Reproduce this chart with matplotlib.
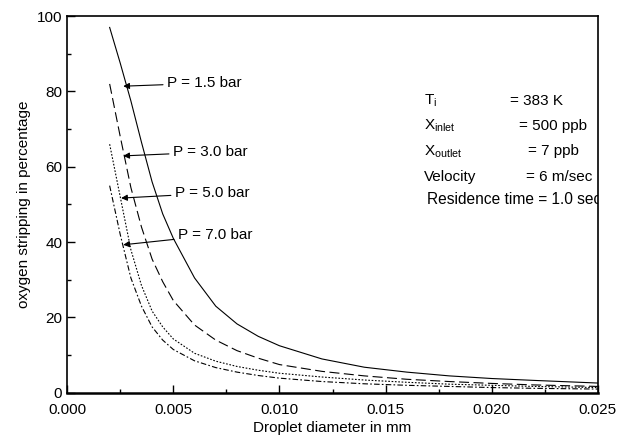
import matplotlib
matplotlib.use("Agg")
import matplotlib.pyplot as plt
from matplotlib.ticker import MultipleLocator

plt.rcParams['font.family'] = ['Liberation Sans', 'DejaVu Sans']
plt.rcParams['mathtext.fontset'] = 'custom'
plt.rcParams['mathtext.rm'] = 'Liberation Sans'
plt.rcParams['mathtext.it'] = 'Liberation Sans'

# droplet diameter (mm)
diameter = [0.002, 0.0025, 0.003, 0.0035, 0.004, 0.0045, 0.005, 0.006, 0.007,
            0.008, 0.009, 0.010, 0.012, 0.014, 0.016, 0.018, 0.020, 0.022, 0.025]

# oxygen stripping (%) for each pressure
p15 = [97, 87.5, 77.5, 66.5, 56, 47.5, 41, 30.5, 23, 18.3, 15, 12.5, 9, 6.8, 5.5, 4.5, 3.8, 3.3, 2.6]
p30 = [82, 68, 54.5, 44, 35.5, 29.5, 24.5, 18, 14, 11.2, 9.2, 7.5, 5.7, 4.5, 3.6, 3.0, 2.5, 2.1, 1.7]
p50 = [66, 52, 38, 28.5, 21.7, 17.5, 14.3, 10.5, 8.4, 7.0, 6.0, 5.2, 4.2, 3.4, 2.8, 2.3, 2.0, 1.7, 1.4]
p70 = [55, 42, 30.5, 23, 17.5, 14, 11.5, 8.5, 6.7, 5.5, 4.6, 3.9, 3.0, 2.4, 2.0, 1.7, 1.4, 1.2, 1.0]

labels = ["P = 1.5 bar", "P = 3.0 bar", "P = 5.0 bar", "P = 7.0 bar"]

fig = plt.figure(figsize=(6.28, 4.36), dpi=100)
ax = fig.add_axes([0.107, 0.099, 0.845, 0.864])

ax.plot(diameter, p15, color='black', lw=0.8, ls='-')
ax.plot(diameter, p30, color='black', lw=0.8, ls=(0, (9, 4)))
ax.plot(diameter, p50, color='black', lw=0.8, ls=(0, (1.5, 1.5)))
ax.plot(diameter, p70, color='black', lw=0.8, ls=(0, (5, 2, 1.5, 2)))

# labels with arrows
text_pos = [(0.00471, 82.2), (0.00499, 63.9), (0.00508, 53.0), (0.00523, 41.9)]
tip_pos = [(0.00264, 81.4), (0.00264, 62.9), (0.00254, 51.7), (0.00264, 39.3)]
for lab, tp, ap in zip(labels, text_pos, tip_pos):
    ax.annotate(lab, xy=ap, xytext=tp, ha='left', va='center', fontsize=11,
                arrowprops=dict(arrowstyle='-|>', color='black', lw=0.8,
                                mutation_scale=9, shrinkA=1, shrinkB=0))

# parameters block
ax.text(0.0168, 77.5, r'T$_{\mathrm{i}}$', fontsize=11, va='center')
ax.text(0.02086, 77.5, '= 383 K', fontsize=11, va='center')
ax.text(0.0168, 70.8, r'X$_{\mathrm{inlet}}$', fontsize=11, va='center')
ax.text(0.0213, 70.8, '= 500 ppb', fontsize=11, va='center')
ax.text(0.0168, 64.1, r'X$_{\mathrm{outlet}}$', fontsize=11, va='center')
ax.text(0.0217, 64.1, '= 7 ppb', fontsize=11, va='center')
ax.text(0.0168, 57.4, 'Velocity', fontsize=11, va='center')
ax.text(0.0216, 57.4, '= 6 m/sec', fontsize=11, va='center')
ax.text(0.01695, 51.3, 'Residence time = 1.0 sec', fontsize=11.2, va='center',
        clip_on=True)

ax.set_xlim(0, 0.025)
ax.set_ylim(0, 100)
ax.xaxis.set_major_locator(MultipleLocator(0.005))
ax.xaxis.set_minor_locator(MultipleLocator(0.0025))
ax.yaxis.set_major_locator(MultipleLocator(20))
ax.yaxis.set_minor_locator(MultipleLocator(10))
ax.xaxis.set_major_formatter(matplotlib.ticker.FormatStrFormatter('%.3f'))
ax.tick_params(which='both', direction='in', top=False, right=False,
               labelsize=11, width=1)
ax.tick_params(which='major', length=6)
ax.tick_params(which='minor', length=3)
ax.tick_params(axis='x', pad=7)
for s in ax.spines.values():
    s.set_linewidth(1.2)
ax.spines['bottom'].set_linewidth(1.8)

ax.set_xlabel('Droplet diameter in mm', fontsize=11, labelpad=3)
ax.set_ylabel('oxygen stripping in percentage', fontsize=11, labelpad=4)

fig.savefig('out.png', dpi=100)
